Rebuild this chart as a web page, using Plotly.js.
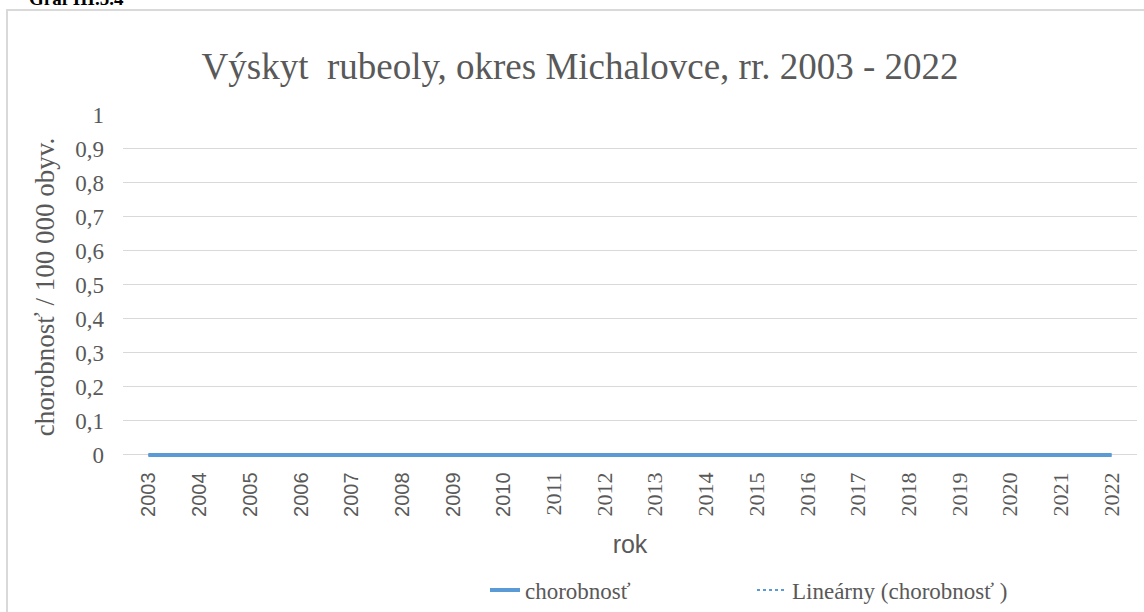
<!DOCTYPE html>
<html>
<head>
<meta charset="utf-8">
<script src="https://cdn.plot.ly/plotly-3.0.1.min.js"></script>
<style>html,body{margin:0;padding:0;background:#fff;}#chart{width:1144px;height:612px;}</style>
</head>
<body>
<div id="chart"></div>
<script>
// Data
const years = ['2003','2004','2005','2006','2007','2008','2009','2010','2011','2012','2013','2014','2015','2016','2017','2018','2019','2020','2021','2022'];
const chorobnost = [0,0,0,0,0,0,0,0,0,0,0,0,0,0,0,0,0,0,0,0];
const yTicks = [0,0.1,0.2,0.3,0.4,0.5,0.6,0.7,0.8,0.9,1];
const chartTitle = 'Výskyt  rubeoly, okres Michalovce, rr. 2003 - 2022';
const yTitle = 'chorobnosť / 100 000 obyv.';
const xTitle = 'rok';
const seriesName = 'chorobnosť';
const trendName = 'Lineárny (chorobnosť )';
const graphLabel = 'Graf III.5.4';

// linear trend (least squares) from the data
const n = chorobnost.length;
const idx = chorobnost.map((_, i) => i + 1);
const mx = idx.reduce((a, b) => a + b, 0) / n;
const my = chorobnost.reduce((a, b) => a + b, 0) / n;
let sxy = 0, sxx = 0;
for (let i = 0; i < n; i++) { sxy += (idx[i] - mx) * (chorobnost[i] - my); sxx += (idx[i] - mx) ** 2; }
const slope = sxx ? sxy / sxx : 0;
const trend = idx.map(v => my + slope * (v - mx));

const serif = 'Liberation Serif';
const sans = 'Liberation Sans';
const textColor = '#595959';

const tickText = years.map((y, i) => i < 8
  ? '<span style="font-family:Liberation Sans;font-size:20px">' + y + '</span>'
  : y);

// y range starts a hair below zero so the thick zero line is not clipped
const yMin = -0.012;
const plotTop = 115, zeroPx = 455;
const plotH = (zeroPx - plotTop) * (1 - yMin);
const bottomMargin = 612 - plotTop - plotH;

const traces = [
  {
    x: years, y: chorobnost, type: 'scatter', mode: 'lines', name: seriesName,
    line: {color: '#5b9bd5', width: 4}
  },
  {
    x: years, y: trend, type: 'scatter', mode: 'lines', name: trendName,
    line: {color: '#5b9bd5', width: 2, dash: 'dot'}
  }
];

const layout = {
  width: 1144, height: 612,
  margin: {l: 123, r: 7, t: plotTop, b: bottomMargin},
  paper_bgcolor: '#fff', plot_bgcolor: '#fff',
  separators: ', ',
  font: {family: serif, color: textColor},
  title: {
    text: chartTitle, font: {family: serif, size: 37, color: textColor},
    x: 0.507, xref: 'container', xanchor: 'center', y: 1 - 66/612, yref: 'container', yanchor: 'middle'
  },
  xaxis: {
    type: 'category', range: [-0.5, 19.5], tickmode: 'array', tickvals: years, ticktext: tickText,
    tickangle: -90, ticks: '', showgrid: false, showline: false,
    tickfont: {family: serif, size: 22, color: textColor}, ticklabelstandoff: 8,
    title: {text: xTitle, font: {family: sans, size: 25, color: textColor}, standoff: 19},
    zeroline: false, fixedrange: true
  },
  yaxis: {
    range: [yMin, 1], tickmode: 'array', tickvals: yTicks, ticks: '',
    showgrid: true, gridcolor: '#d9d9d9', gridwidth: 1, zeroline: false, showline: false,
    tickfont: {family: serif, size: 23, color: textColor}, ticklabelstandoff: 18,
    title: {text: yTitle, font: {family: serif, size: 27, color: textColor}, standoff: 12},
    fixedrange: true
  },
  showlegend: true,
  legend: {
    orientation: 'h', xref: 'container', yref: 'container',
    x: 485/1144, xanchor: 'left', y: 1 - 590/612, yanchor: 'middle',
    font: {family: serif, size: 23, color: textColor},
    entrywidth: 222, entrywidthmode: 'pixels', bgcolor: 'rgba(0,0,0,0)'
  },
  shapes: [{
    type: 'rect', xref: 'paper', yref: 'paper',
    x0: (7 - 123) / 1014, x1: (1150 - 123) / 1014,
    y0: -0.5, y1: 1 + (plotTop - 10) / plotH,
    line: {color: '#d9d9d9', width: 2}, fillcolor: 'rgba(0,0,0,0)', layer: 'below'
  }],
  annotations: [{
    text: '<b>' + graphLabel + '</b>', xref: 'paper', yref: 'paper',
    x: (27 - 123) / 1014, xanchor: 'left', y: 1 + (plotTop + 2) / plotH, yanchor: 'middle',
    showarrow: false, font: {family: serif, size: 19, color: '#000'}
  }]
};

Plotly.newPlot('chart', traces, layout, {displayModeBar: false, staticPlot: true});
</script>
</body>
</html>
